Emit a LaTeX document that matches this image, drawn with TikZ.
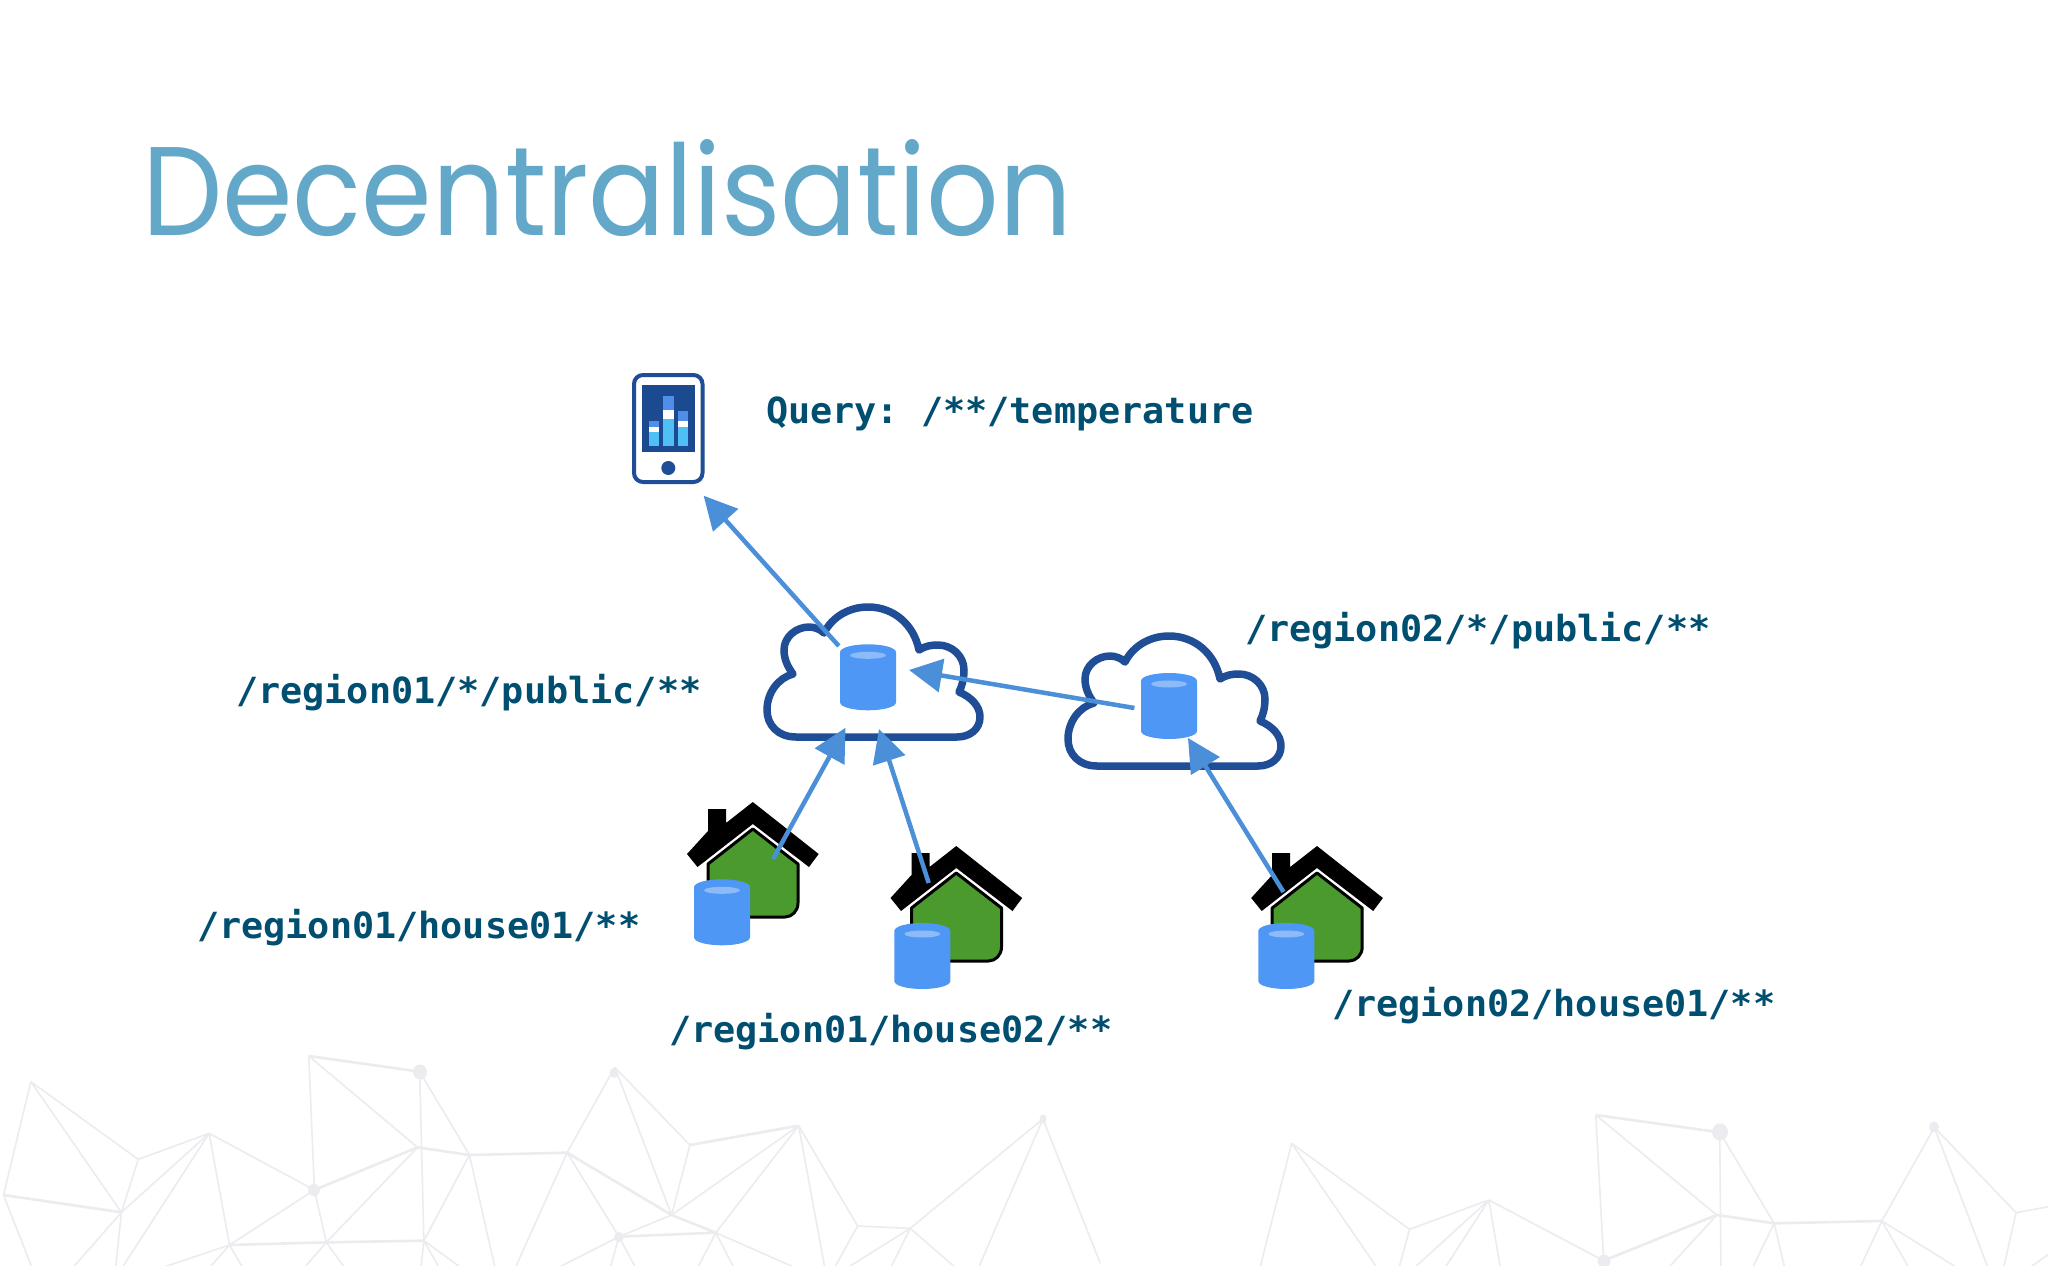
\documentclass[tikz,border=0pt]{standalone}
\usepackage{fontspec}
\usetikzlibrary{arrows.meta}
\newfontfamily\titlefont{Poppins}
\newfontfamily\pathfont{DejaVu Sans Mono Bold}
\definecolor{titleblue}{HTML}{64A8C9}
\definecolor{textblue}{HTML}{004F70}
\definecolor{navy}{HTML}{1F4E96}
\definecolor{screen}{HTML}{1B4A90}
\definecolor{barblue}{HTML}{4F8FEA}
\definecolor{barlight}{HTML}{4FC0F5}
\definecolor{cyl}{HTML}{4F97F5}
\definecolor{cylhi}{HTML}{8CBBF8}
\definecolor{arrowblue}{HTML}{4A8FD8}
\definecolor{housegreen}{HTML}{4A9A2D}
\definecolor{mesh}{HTML}{ECEBEF}
\newcommand{\pathtext}[1]{\scalebox{1.022}[1]{\fontsize{36}{36}\pathfont\frenchspacing #1}}
\tikzset{
  monolabel/.style={anchor=base west,inner sep=0pt,text=textblue},
  flow/.style={draw=arrowblue,line width=4.5pt,-{Triangle[length=33pt,width=33pt]}},
  meshline/.style={draw=mesh,line width=1.6pt},
  meshthick/.style={draw=mesh,line width=2.6pt},
  meshdot/.style={fill=mesh},
  cloudicon/.pic={
    \draw[navy,line width=7.5pt,fill=white,line join=round]
      (957,737) -- (796,737)
      .. controls (778,737) and (767,725) .. (767,710)
      .. controls (767,693) and (778,678) .. (793,674)
      .. controls (787,666) and (784,658) .. (784,650)
      .. controls (784,637) and (796,627) .. (809,627)
      .. controls (814,627) and (820,629) .. (824,633)
      .. controls (832,617) and (849,607) .. (868,607)
      .. controls (894,607) and (914,625) .. (919,650)
      .. controls (925,646) and (931,645) .. (938,645)
      .. controls (952,645) and (964,656) .. (964,670)
      .. controls (964,679) and (962,686) .. (959,692)
      .. controls (971,697) and (980,706) .. (980,717)
      .. controls (980,729) and (970,737) .. (957,737) -- cycle;
  },
  cylinder icon/.pic={
    \fill[cyl] (-28,-25) .. controls (-28,-30) and (-14,-33) .. (0,-33)
      .. controls (14,-33) and (28,-30) .. (28,-25) -- (28,25)
      .. controls (28,30) and (14,33) .. (0,33)
      .. controls (-14,33) and (-28,30) .. (-28,25) -- cycle;
    \fill[cylhi] (0,-22) ellipse [x radius=18,y radius=3.5];
  },
  houseicon/.pic={
    \fill[black] (752.8,802) -- (818.7,854) -- (809,867) -- (752.8,824) -- (697.5,867)
      -- (687,854) -- (708,831) -- (708,809) -- (726,809) -- (726,823) -- cycle;
    \draw[black,line width=3pt,fill=housegreen,line join=round]
      (752.8,829) -- (798,864) -- (798,903)
      .. controls (798,911) and (792,917) .. (785,917) -- (708,917) -- (708,864) -- cycle;
  },
}
\begin{document}
\begin{tikzpicture}[x=1pt,y=-1pt]
\useasboundingbox (0,0) rectangle (2048,1266);
\fill[white] (0,0) rectangle (2048,1266);
\begin{scope}
\clip (0,0) rectangle (2048,1266);
% background mesh, left part
\begin{scope}[shift={(0,1030)},xscale=0.70175,yscale=0.33333]
\coordinate (a) at (44,155); \coordinate (b) at (197,388); \coordinate (c) at (298,310);
\coordinate (d) at (173,547); \coordinate (e) at (5,495); \coordinate (f) at (440,78);
\coordinate (g) at (598,125); \coordinate (h) at (595,352); \coordinate (i) at (669,375);
\coordinate (j) at (808,368); \coordinate (k) at (448,480); \coordinate (l) at (876,112);
\coordinate (m) at (983,345); \coordinate (n) at (1138,287); \coordinate (o) at (957,555);
\coordinate (p) at (1020,608); \coordinate (q) at (882,620); \coordinate (r) at (327,645);
\coordinate (s) at (465,637); \coordinate (t) at (604,632); \coordinate (u) at (1222,588);
\coordinate (v) at (1297,595); \coordinate (w) at (1486,267);
\path[meshline] (a)--(e) (a)--(b) (a)--(d) (b)--(c) (b)--(d) (c)--(d) (c)--(175,710) (c)--(k) (c)--(r)
 (e)--(45,710) (d)--(105,710) (d)--(165,710) (k)--(f) (k)--(r) (k)--(s) (f)--(h) (g)--(t) (g)--(i)
 (h)--(s) (i)--(t) (i)--(705,710) (j)--(735,710) (j)--(q) (l)--(j) (l)--(o) (l)--(m) (m)--(o)
 (n)--(o) (n)--(p) (n)--(1175,710) (n)--(u) (o)--(q) (q)--(798,710) (q)--(870,710) (q)--(905,710)
 (p)--(995,710) (p)--(1045,710) (p)--(1130,710) (r)--(235,710) (r)--(300,710) (r)--(345,710)
 (s)--(435,710) (s)--(490,710) (t)--(600,710) (t)--(625,710) (t)--(655,710) (u)--(1190,710)
 (v)--(1210,710) (v)--(1270,710) (v)--(1360,710) (v)--(w) (w)--(1395,710) (w)--(1568,700) (u)--(v);
\path[meshthick] (e)--(d) (f)--(g) (k)--(h) (h)--(i) (i)--(j) (j)--(o) (o)--(p) (q)--(p) (r)--(s) (s)--(t) (m)--(n);
\end{scope}
\fill[meshdot] (420,1072) ellipse [x radius=7,y radius=7.5];
\fill[meshdot] (614,1073) ellipse [x radius=4.5,y radius=5];
\fill[meshdot] (314,1190) ellipse [x radius=6,y radius=6];
\fill[meshdot] (619,1237) ellipse [x radius=5,y radius=5];
\fill[meshdot] (1043,1119) ellipse [x radius=3.5,y radius=4.5];
% background mesh, right part
\begin{scope}[shift={(1100,1030)},xscale=0.6046,yscale=0.33333]
\coordinate (A) at (317,340); \coordinate (B) at (512,598); \coordinate (C) at (643,510);
\coordinate (D) at (833,692); \coordinate (E) at (820,255); \coordinate (F) at (1025,307);
\coordinate (G) at (1020,555); \coordinate (H) at (1115,580); \coordinate (I) at (1293,573);
\coordinate (J) at (1380,292); \coordinate (K) at (1515,548); \coordinate (L) at (1575,528);
\path[meshline] (A)--(265,710) (A)--(457,710) (A)--(B) (B)--(C) (B)--(495,710) (C)--(522,710)
 (C)--(572,710) (C)--(662,710) (C)--(D) (E)--(D) (E)--(G) (F)--(1027,710) (F)--(H) (G)--(942,710)
 (H)--(1080,710) (H)--(1132,710) (I)--(1258,710) (I)--(1337,710) (I)--(1415,710) (J)--(I)
 (J)--(1468,710) (J)--(K) (K)--(L) (K)--(1495,710) (1575,665)--(1540,710);
\path[meshthick] (E)--(F) (G)--(D) (G)--(H) (H)--(I);
\end{scope}
\fill[meshdot] (1720,1132) ellipse [x radius=8,y radius=8.5];
\fill[meshdot] (1934,1127) ellipse [x radius=5,y radius=5.5];
\fill[meshdot] (1604,1261) ellipse [x radius=6.5,y radius=6.5];
\end{scope}
% title
\node[anchor=base west,inner sep=0pt,text=titleblue] (title) at (142,235)
  {\resizebox{930pt}{96pt}{\fontsize{133}{133}\titlefont Decentralisation}};
% phone
\draw[navy,line width=4pt,fill=white,rounded corners=9pt] (634,375) rectangle (702.5,482);
\fill[screen] (641.5,385) rectangle (695,452);
\fill[barlight] (648.7,431.7) rectangle (659.4,446.3);
\fill[white] (648.7,427.3) rectangle (659.4,431.7);
\fill[barblue] (648.7,420.7) rectangle (659.4,427.3);
\fill[barlight] (663,418.7) rectangle (674,446.3);
\fill[white] (663,410) rectangle (674,418.7);
\fill[barblue] (663,396) rectangle (674,410);
\fill[barlight] (677.7,427.3) rectangle (688.4,446.3);
\fill[white] (677.7,420.7) rectangle (688.4,427.3);
\fill[barblue] (677.7,410.7) rectangle (688.4,420.7);
\fill[navy] (668.3,468) circle [radius=7];
% houses
\pic at (0,0) {houseicon};
\pic at (203.5,44) {houseicon};
\pic at (564.2,44) {houseicon};
% clouds
\pic at (0,0) {cloudicon};
\pic at (301,29) {cloudicon};
% data stores
\pic at (868,677.3) {cylinder icon};
\pic at (1169,706) {cylinder icon};
\pic at (722,912.3) {cylinder icon};
\pic at (922.3,956) {cylinder icon};
\pic at (1286.3,956) {cylinder icon};
% connector ends
\coordinate (phonein) at (703.6,495.7);
\coordinate (cloudAout) at (838.8,646);
\coordinate (cloudAin) at (909,670);
\coordinate (cloudBout) at (1134.4,708);
\coordinate (houseAout) at (773,859);
\coordinate (cloudAinL) at (845.5,727.7);
\coordinate (houseBout) at (928.7,883);
\coordinate (cloudAinR) at (879,729);
\coordinate (houseCout) at (1283.5,892);
\coordinate (cloudBin) at (1188,738);
\draw[flow] (cloudAout) -- (phonein);
\draw[flow] (cloudBout) -- (cloudAin);
\draw[flow] (houseAout) -- (cloudAinL);
\draw[flow] (houseBout) -- (cloudAinR);
\draw[flow] (houseCout) -- (cloudBin);
% labels
\node[monolabel] (query) at (766,423) {\pathtext{Query: /**/temperature}};
\node[monolabel] (regionB) at (1245,641) {\pathtext{/region02/*/public/**}};
\node[monolabel] (regionA) at (236,703) {\pathtext{/region01/*/public/**}};
\node[monolabel] (houseA) at (197,938) {\pathtext{/region01/house01/**}};
\node[monolabel] (houseB) at (669,1042) {\pathtext{/region01/house02/**}};
\node[monolabel] (houseC) at (1332,1016) {\pathtext{/region02/house01/**}};
\end{tikzpicture}
\end{document}
